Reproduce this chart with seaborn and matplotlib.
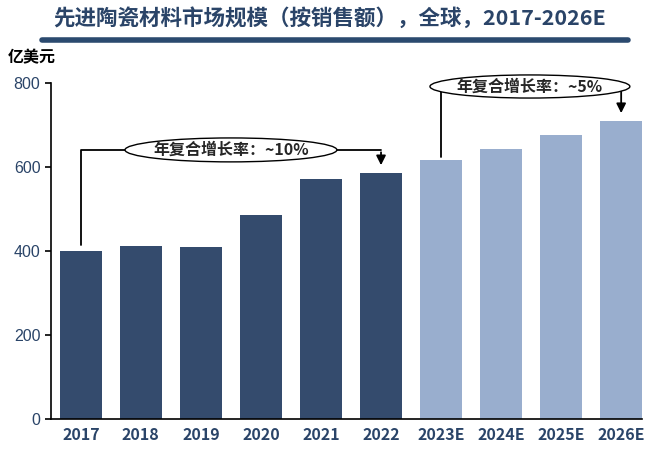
import numpy as np
import pandas as pd
import matplotlib.pyplot as plt
import seaborn as sns
from matplotlib.patches import Ellipse

years = ['2017', '2018', '2019', '2020', '2021', '2022', '2023E', '2024E', '2025E', '2026E']
sales = [400, 412, 408, 486, 571, 585, 615, 643, 675, 708]
kind = ['actual'] * 6 + ['forecast'] * 4
cagr_labels = ['年复合增长率：~10%', '年复合增长率：~5%']

sns.set_style('white')
plt.rcParams['font.family'] = ['Noto Sans CJK SC', 'DejaVu Sans']

dark = '#344b6d'
light = '#99aece'
navy_text = '#2a4468'

df = pd.DataFrame({'year': years, 'sales': sales, 'kind': kind})

fig = plt.figure(figsize=(6.6, 4.51), dpi=100)
ax = fig.add_axes([0.077, 0.0716, 0.896, 0.745])

sns.barplot(data=df, x='year', y='sales', hue='kind', palette={'actual': dark, 'forecast': light},
            dodge=False, width=0.7, legend=False, ax=ax, saturation=1, linewidth=0)

ax.set_ylim(0, 800)
ax.set_xlim(-0.5, 9.35)
ax.set_yticks([0, 200, 400, 600, 800])
ax.set_xlabel('')
ax.set_ylabel('')
sns.despine(ax=ax)
ax.spines['left'].set_color('black')
ax.spines['bottom'].set_color('black')
ax.spines['left'].set_linewidth(1.2)
ax.spines['bottom'].set_linewidth(1.2)
ax.tick_params(axis='y', length=4, width=1.2, color='black', labelsize=11.5, labelcolor=navy_text, left=True)
ax.tick_params(axis='x', length=0, labelsize=11.5, labelcolor=navy_text, pad=6)
for lab in ax.get_yticklabels():
    lab.set_fontfamily(['Liberation Sans', 'DejaVu Sans'])
for lab in ax.get_xticklabels():
    lab.set_fontweight('bold')

# CAGR bracket 1: 2017 -> 2022
y1 = 640
ax.plot([0, 0, 5], [414, y1, y1], color='black', lw=1.3, clip_on=False, zorder=3)
ax.annotate('', xy=(5, 597), xytext=(5, y1 + 1),
            arrowprops=dict(arrowstyle='-|>', color='black', lw=1.3, mutation_scale=14), zorder=3)
ax.add_patch(Ellipse((2.5, y1), 3.53, 57, facecolor='white', edgecolor='black', lw=1, zorder=4, clip_on=False))
ax.text(2.5, y1, cagr_labels[0], ha='center', va='center', fontsize=11.5, fontweight='bold', zorder=5)

# CAGR bracket 2: 2023E -> 2026E
y2 = 791
ax.plot([6, 6], [622, y2], color='black', lw=1.3, clip_on=False, zorder=3)
ax.annotate('', xy=(9, 721), xytext=(9, y2),
            arrowprops=dict(arrowstyle='-|>', color='black', lw=1.3, mutation_scale=14), zorder=3,
            annotation_clip=False)
ax.add_patch(Ellipse((7.48, y2), 3.33, 55, facecolor='white', edgecolor='black', lw=1, zorder=4, clip_on=False))
ax.text(7.48, y2, cagr_labels[1], ha='center', va='center', fontsize=11.5, fontweight='bold', zorder=5)

# title and rule
fig.text(0.5, 0.96, '先进陶瓷材料市场规模（按销售额），全球，2017-2026E', ha='center', va='center',
         fontsize=15.5, fontweight='bold', color=navy_text)
fig.add_artist(plt.Line2D([0.064, 0.951], [0.911, 0.911], color='#2b4a6f', lw=4))
fig.text(0.012, 0.872, '亿美元', ha='left', va='center', fontsize=11.5, fontweight='bold', color='black')

fig.savefig('out.png', dpi=100)
